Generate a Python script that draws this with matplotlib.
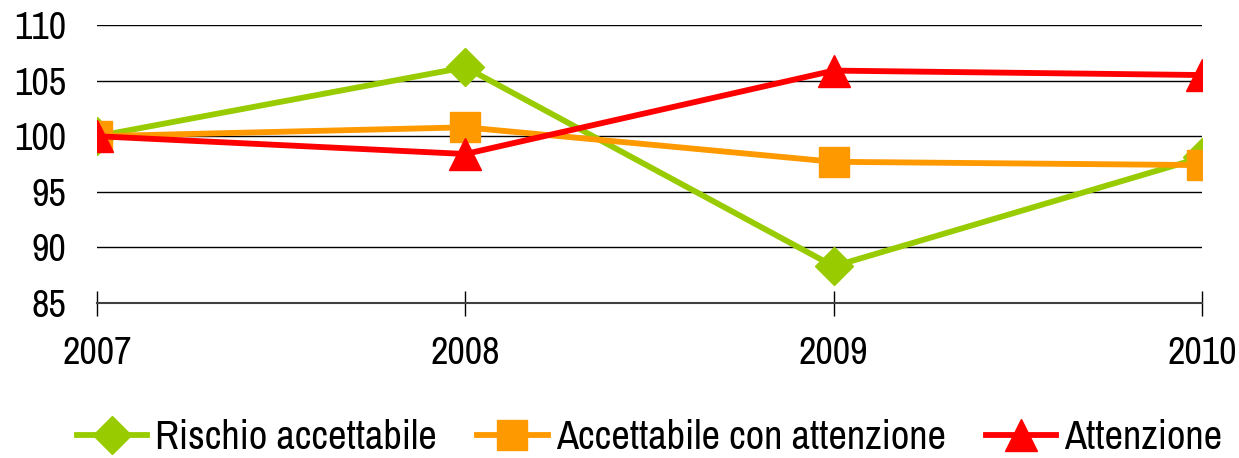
import matplotlib
matplotlib.use('Agg')
import matplotlib.pyplot as plt

plt.rcParams['font.family'] = ['Liberation Sans Narrow', 'Arial Narrow', 'Archivo Narrow',
                               'PT Sans Narrow', 'Fira Sans Condensed', 'DejaVu Sans']
plt.rcParams['font.weight'] = 'bold'

years = ['2007', '2008', '2009', '2010']
rischio_accettabile = [100.0, 106.2, 88.3, 98.1]
accettabile_attenzione = [100.0, 100.8, 97.7, 97.4]
attenzione = [100.0, 98.4, 105.9, 105.5]
y_ticks = [85, 90, 95, 100, 105, 110]

fig = plt.figure(figsize=(12.39, 4.58), dpi=100)
ax = fig.add_axes([0.0783, 0.3384, 0.8919, 0.607])

x = range(len(years))
ax.plot(x, rischio_accettabile, color='#99CC00', lw=4.2, marker='D', ms=19,
        label='Rischio accettabile', zorder=3)
ax.plot(x, accettabile_attenzione, color='#FF9900', lw=4.2, marker='s', ms=21,
        label='Accettabile con attenzione', zorder=4)
ax.plot(x, attenzione, color='#FF0000', lw=4.2, marker='^', ms=23,
        label='Attenzione', zorder=5)

ax.set_xlim(0, len(years) - 1)
ax.set_ylim(85, 110)
ax.set_yticks(y_ticks)
ax.set_xticks(list(x))
ax.set_xticklabels(years)

# horizontal gridlines only, bottom axis line with crossing ticks
ax.grid(axis='y', color='black', lw=1)
ax.set_axisbelow(True)
for side in ['left', 'right', 'top']:
    ax.spines[side].set_visible(False)
ax.spines['bottom'].set_color('#404040')
ax.spines['bottom'].set_linewidth(1.5)
ax.spines['bottom'].set_zorder(2)

ax.tick_params(axis='y', length=0, pad=22, labelsize=27.5)
ax.tick_params(axis='x', direction='inout', length=18, width=1,
               pad=15, labelsize=27.5)

ax.legend(loc='center', bbox_to_anchor=(0.5, -0.485), ncol=3, frameon=False,
          handlelength=1.75, handletextpad=0.2, columnspacing=1.0,
          prop={'size': 29, 'weight': 'bold'})

fig.savefig('out.png', dpi=100)
